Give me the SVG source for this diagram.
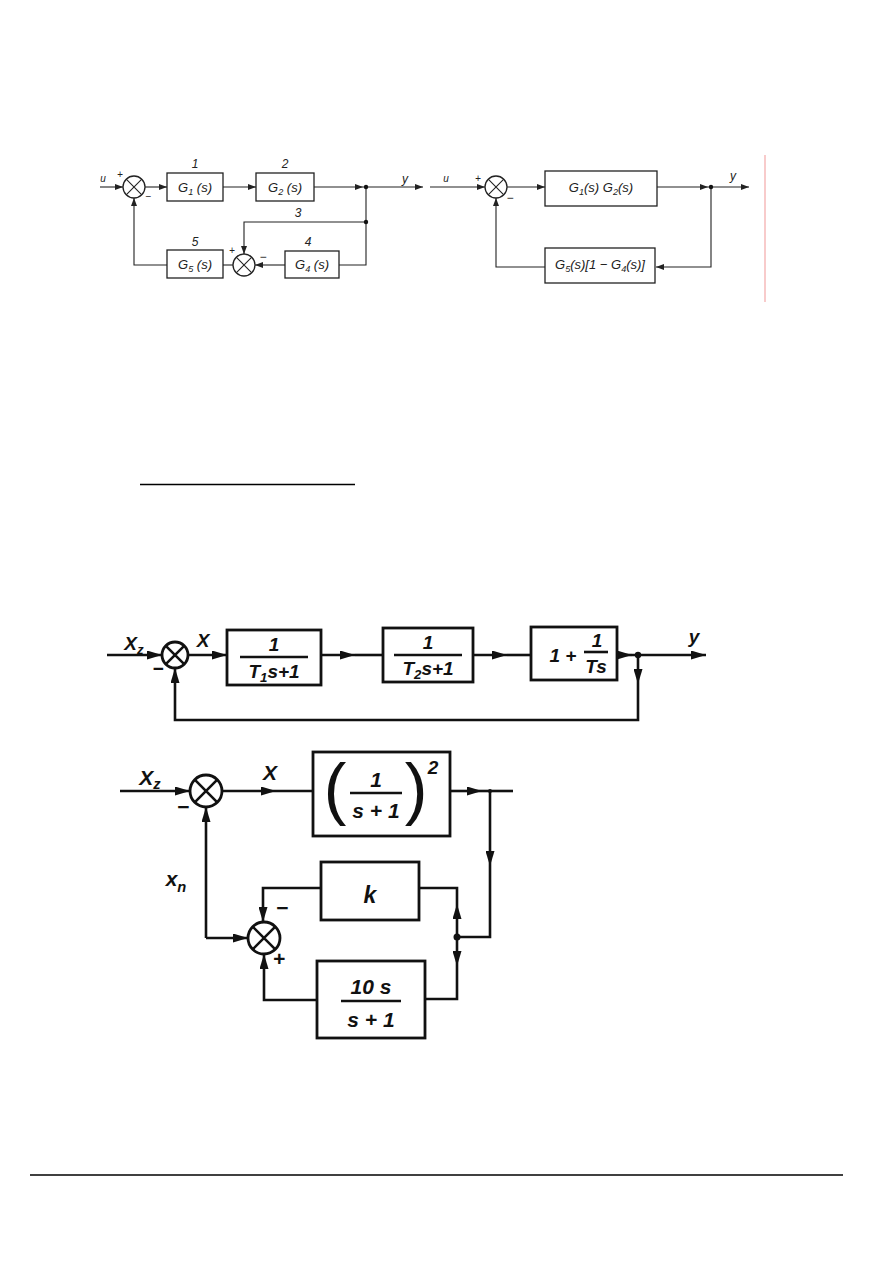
<svg xmlns="http://www.w3.org/2000/svg" width="893" height="1263" viewBox="0 0 893 1263">
<defs>
<marker id="a" markerUnits="userSpaceOnUse" markerWidth="9" markerHeight="6" refX="8" refY="3" orient="auto"><path d="M0,0 L8,3 L0,6 z" fill="#222"/></marker>
<marker id="A" markerUnits="userSpaceOnUse" markerWidth="16" markerHeight="9" refX="15" refY="4.5" orient="auto"><path d="M0,0 L15,4.5 L0,9 z" fill="#111"/></marker>
</defs>
<style>
.t{fill:none;stroke:#222;stroke-width:1.1}
.tb{fill:#fff;stroke:#222;stroke-width:1.3}
.k{fill:none;stroke:#111;stroke-width:2.6}
.kb{fill:#fff;stroke:#111;stroke-width:2.8}
.ta{marker-end:url(#a)}
.ka{marker-end:url(#A)}
.s{font-family:"Liberation Sans",Arial,sans-serif;font-style:italic;fill:#222;font-size:12px;text-anchor:middle}
.g{font-size:13px}
.sm{font-size:10px}
.b{font-family:"Liberation Sans",Arial,sans-serif;font-style:italic;font-weight:bold;fill:#111;font-size:19px;text-anchor:middle}
.L{font-size:21px}
.P{font-size:68px;font-weight:normal;font-style:normal}
.sub{font-size:70%}
.dot{fill:#111}
</style>
<rect width="893" height="1263" fill="#fff"/>

<!-- top-left diagram -->
<g id="connectors-top-left">
<line class="t ta" x1="100" y1="187" x2="123" y2="187"/>
<line class="t ta" x1="145" y1="187" x2="167" y2="187"/>
<line class="t ta" x1="223" y1="187" x2="256" y2="187"/>
<line class="t ta" x1="314" y1="187" x2="363" y2="187"/>
<line class="t ta" x1="363" y1="187" x2="423" y2="187"/>
<polyline class="t" points="366,187 366,265 339,265"/>
<polyline class="t ta" points="366,222 244,222 244,254"/>
<line class="t ta" x1="285" y1="265" x2="255" y2="265"/>
<line class="t" x1="233" y1="265" x2="223" y2="265"/>
<polyline class="t ta" points="167,265 134,265 134,198"/>
<circle class="dot" cx="366" cy="187" r="2.2"/>
<circle class="dot" cx="366" cy="222" r="2.2"/>
</g>
<g id="sum1"><circle class="tb" cx="134" cy="187" r="11"/><path class="t" d="M126.2,179.2 L141.8,194.8 M141.8,179.2 L126.2,194.8"/></g>
<g id="sum2"><circle class="tb" cx="244" cy="265" r="11"/><path class="t" d="M236.2,257.2 L251.8,272.8 M251.8,257.2 L236.2,272.8"/></g>
<g id="G1"><rect class="tb" x="167" y="173" width="56" height="28"/><text class="s g" x="195" y="192">G<tspan class="sub" dy="3">1</tspan><tspan dy="-3"> (s)</tspan></text><text class="s" x="195" y="168">1</text></g>
<g id="G2"><rect class="tb" x="256" y="173" width="58" height="28"/><text class="s g" x="285" y="192">G<tspan class="sub" dy="3">2</tspan><tspan dy="-3"> (s)</tspan></text><text class="s" x="285" y="168">2</text></g>
<g id="G4"><rect class="tb" x="285" y="251" width="54" height="27"/><text class="s g" x="312" y="269">G<tspan class="sub" dy="3">4</tspan><tspan dy="-3"> (s)</tspan></text><text class="s" x="308" y="246">4</text></g>
<g id="G5"><rect class="tb" x="167" y="250" width="56" height="28"/><text class="s g" x="195" y="269">G<tspan class="sub" dy="3">5</tspan><tspan dy="-3"> (s)</tspan></text><text class="s" x="195" y="246">5</text></g>
<g id="labels-top-left">
<text class="s sm" x="103" y="182">u</text>
<text class="s sm" x="120" y="178">+</text>
<text class="s sm" x="148" y="200">−</text>
<text class="s" x="298" y="217">3</text>
<text class="s sm" x="232" y="254">+</text>
<text class="s" x="263" y="261">−</text>
<text class="s" x="405" y="183">y</text>
</g>

<!-- top-right diagram -->
<g id="connectors-top-right">
<line class="t ta" x1="430" y1="187" x2="485" y2="187"/>
<line class="t ta" x1="507" y1="187" x2="545" y2="187"/>
<line class="t ta" x1="657" y1="187" x2="708" y2="187"/>
<line class="t ta" x1="708" y1="187" x2="749" y2="187"/>
<polyline class="t ta" points="711,187 711,267 656,267"/>
<polyline class="t ta" points="545,267 496,267 496,198"/>
<circle class="dot" cx="711" cy="187" r="2.2"/>
</g>
<g id="sum3"><circle class="tb" cx="496" cy="187" r="11"/><path class="t" d="M488.2,179.2 L503.8,194.8 M503.8,179.2 L488.2,194.8"/></g>
<g id="G1G2"><rect class="tb" x="545" y="171" width="112" height="35"/><text class="s g" x="601" y="192">G<tspan class="sub" dy="3">1</tspan><tspan dy="-3">(s)   G</tspan><tspan class="sub" dy="3">2</tspan><tspan dy="-3">(s)</tspan></text></g>
<g id="G5G4"><rect class="tb" x="545" y="248" width="110" height="35"/><text class="s g" x="600" y="269">G<tspan class="sub" dy="3">5</tspan><tspan dy="-3">(s)[1 − G</tspan><tspan class="sub" dy="3">4</tspan><tspan dy="-3">(s)]</tspan></text></g>
<g id="labels-top-right">
<text class="s sm" x="446" y="182">u</text>
<text class="s sm" x="478" y="182">+</text>
<text class="s" x="510" y="202">−</text>
<text class="s" x="733" y="180">y</text>
</g>
<line x1="765" y1="155" x2="765" y2="302" stroke="#f4a8a8" stroke-width="1.2"/>

<!-- separator lines -->
<line x1="140" y1="484.5" x2="355" y2="484.5" stroke="#000" stroke-width="1.3"/>
<line x1="30" y1="1175" x2="843" y2="1175" stroke="#000" stroke-width="1.3"/>

<!-- middle diagram -->
<g id="connectors-middle">
<line class="k ka" x1="107" y1="655" x2="162" y2="655"/>
<line class="k ka" x1="188" y1="655" x2="227" y2="655"/>
<line class="k ka" x1="321" y1="655" x2="355" y2="655"/>
<line class="k" x1="355" y1="655" x2="383" y2="655"/>
<line class="k ka" x1="473" y1="655" x2="507" y2="655"/>
<line class="k" x1="507" y1="655" x2="531" y2="655"/>
<line class="k ka" x1="617" y1="655" x2="632" y2="655"/>
<line class="k ka" x1="632" y1="655" x2="706" y2="655"/>
<line class="k ka" x1="638" y1="655" x2="638" y2="684"/>
<polyline class="k ka" points="638,684 638,720 175,720 175,668"/>
<circle class="dot" cx="638" cy="655" r="3.2"/>
</g>
<g id="sum4"><circle class="kb" cx="175" cy="655" r="13"/><path class="k" d="M165.8,645.8 L184.2,664.2 M184.2,645.8 L165.8,664.2" stroke-width="2.2"/></g>
<g id="T1"><rect class="kb" x="227" y="630" width="94" height="55"/><text class="b" x="274" y="651">1</text><line class="k" x1="240" y1="657" x2="308" y2="657" stroke-width="2"/><text class="b" x="274" y="678">T<tspan class="sub" dy="4">1</tspan><tspan dy="-4">s+1</tspan></text></g>
<g id="T2"><rect class="kb" x="383" y="628" width="90" height="54"/><text class="b" x="428" y="649">1</text><line class="k" x1="394" y1="655" x2="462" y2="655" stroke-width="2"/><text class="b" x="428" y="675">T<tspan class="sub" dy="4">2</tspan><tspan dy="-4">s+1</tspan></text></g>
<g id="PI"><rect class="kb" x="531" y="627" width="86" height="53"/><text class="b" x="563" y="662">1 +</text><text class="b" x="597" y="647">1</text><line class="k" x1="584" y1="652" x2="608" y2="652" stroke-width="2"/><text class="b" x="596" y="673">Ts</text></g>
<g id="labels-middle">
<text class="b" x="134" y="650">X<tspan class="sub" dy="4">z</tspan></text>
<text class="b" x="158" y="675">−</text>
<text class="b" x="203" y="647">X</text>
<text class="b" x="694" y="643">y</text>
</g>

<!-- bottom diagram -->
<g id="connectors-bottom">
<line class="k ka" x1="120" y1="791" x2="190" y2="791"/>
<line class="k ka" x1="222" y1="791" x2="276" y2="791"/>
<line class="k" x1="276" y1="791" x2="313" y2="791"/>
<line class="k ka" x1="450" y1="791" x2="482" y2="791"/>
<line class="k" x1="482" y1="791" x2="513" y2="791"/>
<line class="k ka" x1="490" y1="791" x2="490" y2="866"/>
<polyline class="k" points="490,866 490,937 457,937"/>
<line class="k ka" x1="457" y1="937" x2="457" y2="904"/>
<polyline class="k" points="457,904 457,888 419,888"/>
<polyline class="k ka" points="321,888 263,888 263,922"/>
<line class="k ka" x1="206" y1="938" x2="206" y2="807"/>
<line class="k ka" x1="206" y1="938" x2="248" y2="938"/>
<line class="k ka" x1="457" y1="937" x2="457" y2="966"/>
<polyline class="k" points="457,966 457,999 425,999"/>
<polyline class="k ka" points="317,1000 264,1000 264,954"/>
<circle class="dot" cx="457" cy="937" r="3.5"/>
<circle class="dot" cx="490" cy="791" r="2"/>
</g>
<g id="sum5"><circle class="kb" cx="206" cy="791" r="16"/><path class="k" d="M194.7,779.7 L217.3,802.3 M217.3,779.7 L194.7,802.3" stroke-width="2.4"/></g>
<g id="sum6"><circle class="kb" cx="264" cy="938" r="16"/><path class="k" d="M252.7,926.7 L275.3,949.3 M275.3,926.7 L252.7,949.3" stroke-width="2.4"/></g>
<g id="plant"><rect class="kb" x="313" y="752" width="137" height="84"/>
<text class="b P" x="335" y="812">(</text>
<text class="b P" x="416" y="812">)</text>
<text class="b L" x="376" y="787">1</text>
<line class="k" x1="350" y1="793" x2="402" y2="793" stroke-width="2.2"/>
<text class="b L" x="376" y="818">s + 1</text>
<text class="b" x="433" y="774">2</text></g>
<g id="K"><rect class="kb" x="321" y="862" width="98" height="58"/><text class="b" x="370" y="903" style="font-size:23px">k</text></g>
<g id="D"><rect class="kb" x="317" y="961" width="108" height="77"/><text class="b L" x="371" y="994">10 s</text><line class="k" x1="341" y1="1001" x2="401" y2="1001" stroke-width="2.2"/><text class="b L" x="371" y="1027">s + 1</text></g>
<g id="labels-bottom">
<text class="b L" x="150" y="785">X<tspan class="sub" dy="4">z</tspan></text>
<text class="b L" x="183" y="814">−</text>
<text class="b L" x="270" y="780">X</text>
<text class="b L" x="176" y="886">x<tspan class="sub" dy="6">n</tspan></text>
<text class="b L" x="282" y="915">−</text>
<text class="b L" x="279" y="966">+</text>
</g>
</svg>
